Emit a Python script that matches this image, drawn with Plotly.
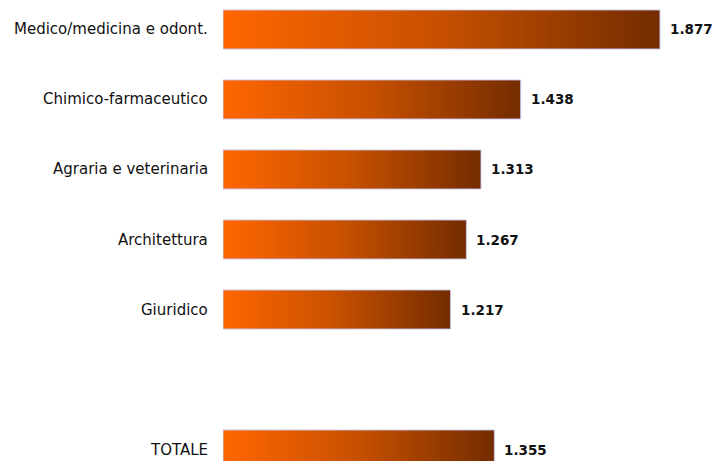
import plotly.graph_objects as go

# Dati: valori per area disciplinare
categories = ["Medico/medicina e odont.", "Chimico-farmaceutico", "Agraria e veterinaria",
              "Architettura", "Giuridico", "TOTALE"]
values = [1.877, 1.438, 1.313, 1.267, 1.217, 1.355]
value_labels = ["1.877", "1.438", "1.313", "1.267", "1.217", "1.355"]
positions = [0, 1, 2, 3, 4, 6]   # riga vuota prima del totale

BASE = 0.5          # origine dell'asse dei valori
HALF = 0.279        # mezza altezza della barra (unità di categoria)

fig = go.Figure()

for cat, v, p in zip(categories, values, positions):
    xs = [BASE, v, v, BASE, BASE]
    ys = [p - HALF, p - HALF, p + HALF, p + HALF, p - HALF]
    fig.add_trace(go.Scatter(
        x=xs, y=ys, mode="lines", fill="toself",
        line=dict(color="rgba(200,200,240,0.9)", width=1),
        fillgradient=dict(type="horizontal",
                          colorscale=[[0, "#FF6600"], [0.5, "#C65000"], [1, "#742C00"]]),
        hoverinfo="skip", showlegend=False,
    ))

annotations = []
for cat, v, lab, p in zip(categories, values, value_labels, positions):
    annotations.append(dict(
        x=v, y=p, xref="x", yref="y", text=lab, showarrow=False,
        xanchor="left", yanchor="middle", xshift=8,
        font=dict(family="DejaVu Sans", size=13.5, color="#111111", weight="bold"),
    ))
    annotations.append(dict(
        x=0, y=p, xref="paper", yref="y", text=cat, showarrow=False,
        xanchor="right", yanchor="middle", xshift=-13,
        font=dict(family="DejaVu Sans", size=15, color="#111111"),
    ))

fig.update_layout(
    width=716, height=461,
    margin=dict(l=223, r=17, t=0, b=0),
    paper_bgcolor="white", plot_bgcolor="white",
    xaxis=dict(range=[BASE, 2.0], visible=False, fixedrange=True),
    yaxis=dict(range=[6.164, -0.421], visible=False, fixedrange=True),
    annotations=annotations,
)

fig.write_html("out.html")
